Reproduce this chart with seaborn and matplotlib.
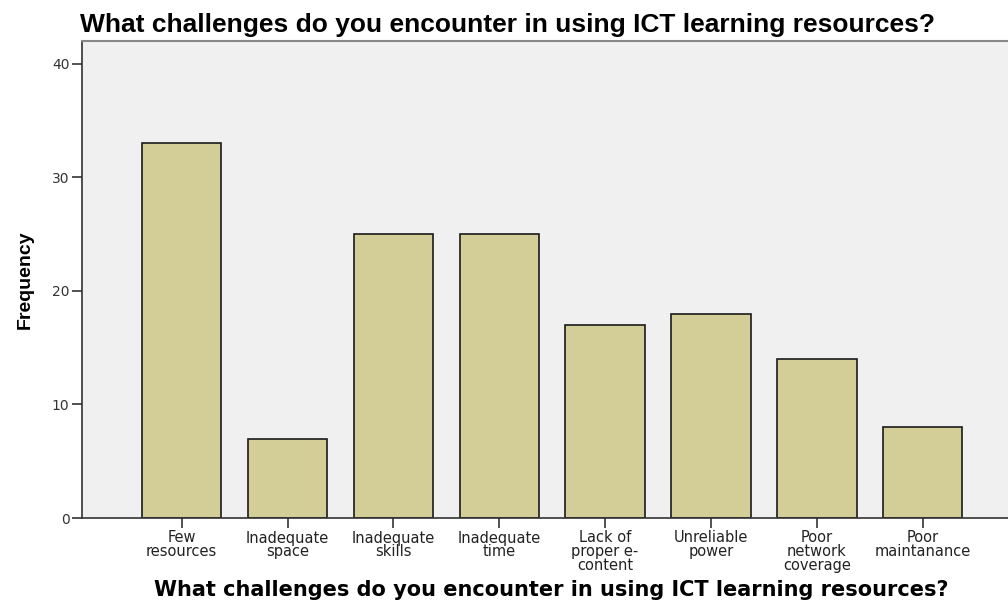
import matplotlib
matplotlib.use("Agg")
import matplotlib.pyplot as plt
import seaborn as sns
import pandas as pd

categories = ["Few\nresources", "Inadequate\nspace", "Inadequate\nskills", "Inadequate\ntime",
              "Lack of\nproper e-\ncontent", "Unreliable\npower", "Poor\nnetwork\ncoverage",
              "Poor\nmaintanance"]
frequency = [33, 7, 25, 25, 17, 18, 14, 8]
yticks = [0, 10, 20, 30, 40]
title_text = "What challenges do you encounter in using ICT learning resources?"

sns.set_theme(style="white")
plt.rcParams['font.family'] = ['DejaVu Sans']

df = pd.DataFrame({"category": categories, "frequency": frequency})

fig = plt.figure(figsize=(10.08, 6.01), dpi=100)
ax = fig.add_axes([82/1008, 1-518/601, 1-82/1008, (518-41)/601])
ax.set_facecolor("#F0F0F0")

sns.barplot(data=df, x="category", y="frequency", color="#D3CE97", saturation=1,
            edgecolor="#1a1a1a", linewidth=1.2, width=0.75, ax=ax)

ax.set_xlim(-0.942, 7.806)
ax.set_ylim(0, 42)
ax.set_yticks(yticks)
ax.set_yticklabels([str(v) for v in yticks], fontsize=10, color="#333333")
ax.set_xticks(range(len(categories)))
ax.set_xticklabels(categories, fontsize=10.5, color="#222222", linespacing=0.9)

ax.tick_params(axis="both", which="both", length=7, width=1.2, color="#333333",
               direction="out", bottom=True, left=True, pad=2)
for s in ["left", "bottom"]:
    ax.spines[s].set_color("#333333")
    ax.spines[s].set_linewidth(1.2)
ax.spines["top"].set_color("#888888")
ax.spines["top"].set_linewidth(1.5)
ax.spines["right"].set_visible(False)

ax.set_xlabel("")
fig.text(551/1008, 1-590/601, title_text, fontsize=15, fontweight="bold", ha="center",
         va="center", color="black")
ax.set_ylabel("Frequency", fontsize=14, fontweight="bold", labelpad=13, color="black",
              family=["Liberation Sans"])
fig.text(80/1008, 1-25/601, title_text, fontsize=19, fontweight="bold", ha="left", va="center",
         color="black", family=["Liberation Sans"])

fig.savefig("out.png", dpi=100)
